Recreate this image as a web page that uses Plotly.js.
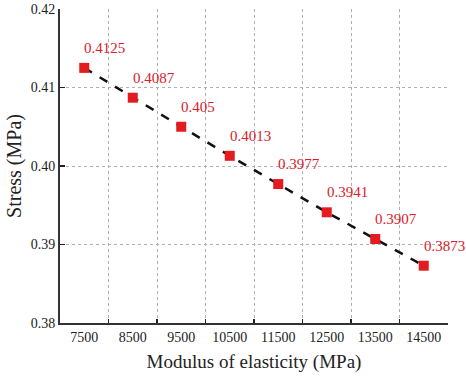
<!DOCTYPE html>
<html>
<head>
<meta charset="utf-8">
<script src="https://cdn.plot.ly/plotly-3.0.1.min.js"></script>
<style>html,body{margin:0;padding:0;background:#fff;}#chart{width:466px;height:377px;}</style>
</head>
<body>
<div id="chart"></div>
<script>
const modulus = [7500, 8500, 9500, 10500, 11500, 12500, 13500, 14500];
const modulusLabels = ["7500", "8500", "9500", "10500", "11500", "12500", "13500", "14500"];
const stress = [0.4125, 0.4087, 0.405, 0.4013, 0.3977, 0.3941, 0.3907, 0.3873];
const stressLabels = ["0.4125", "0.4087", "0.405", "0.4013", "0.3977", "0.3941", "0.3907", "0.3873"];
const xBoundaries = [8000, 9000, 10000, 11000, 12000, 13000, 14000];
const yTicks = [0.38, 0.39, 0.40, 0.41, 0.42];
const yTickText = ["0.38", "0.39", "0.40", "0.41", "0.42"];
const yGrid = [0.39, 0.40, 0.41];

const font = "Liberation Serif, Times New Roman, serif";

const traces = [
  {
    x: modulus, y: stress, type: "scatter", mode: "lines",
    line: {color: "#111", width: 2.5, dash: "dash"},
    hoverinfo: "skip", showlegend: false
  },
  {
    x: modulus, y: stress, type: "scatter", mode: "markers",
    marker: {symbol: "square", size: 10, color: "#e41b1f"},
    showlegend: false
  }
];

const annotations = modulus.map((m, i) => ({
  x: m, y: stress[i], xref: "x", yref: "y", text: stressLabels[i],
  showarrow: false, xanchor: "left", yanchor: "middle",
  xshift: -2, yshift: 20,
  font: {family: font, size: 15, color: "#d9202a"}
}));

const layout = {
  width: 466, height: 377,
  margin: {l: 60, r: 18, t: 9, b: 54},
  paper_bgcolor: "#fff", plot_bgcolor: "#fff",
  showlegend: false,
  font: {family: font, color: "#222"},
  annotations: annotations,
  xaxis: {
    range: [7000, 15000],
    tickmode: "array", tickvals: modulus, ticktext: modulusLabels,
    ticks: "", showgrid: false,
    minor: {
      tickmode: "array", tickvals: xBoundaries,
      ticks: "inside", ticklen: 4, tickcolor: "#222", tickwidth: 1.5,
      showgrid: true, gridcolor: "#b0b0b0", griddash: "dot", gridwidth: 1
    },
    showline: true, linecolor: "#333", linewidth: 2,
    tickfont: {family: font, size: 14, color: "#222"},
    title: {text: "Modulus of elasticity (MPa)", font: {family: font, size: 19, color: "#222"}, standoff: 11},
    automargin: false, zeroline: false, fixedrange: true
  },
  yaxis: {
    range: [0.38, 0.42],
    tickmode: "array", tickvals: yTicks, ticktext: yTickText,
    ticks: "inside", ticklen: 5, tickcolor: "#222", tickwidth: 1.5,
    showgrid: false,
    minor: {
      tickmode: "array", tickvals: yGrid, ticks: "",
      showgrid: true, gridcolor: "#b0b0b0", griddash: "dot", gridwidth: 1
    },
    showline: true, linecolor: "#333", linewidth: 2,
    tickfont: {family: font, size: 14, color: "#222"},
    title: {text: "Stress (MPa)", font: {family: font, size: 20, color: "#222"}, standoff: 4},
    automargin: false, zeroline: false, fixedrange: true
  }
};

Plotly.newPlot("chart", traces, layout, {displayModeBar: false, staticPlot: true});
</script>
</body>
</html>
